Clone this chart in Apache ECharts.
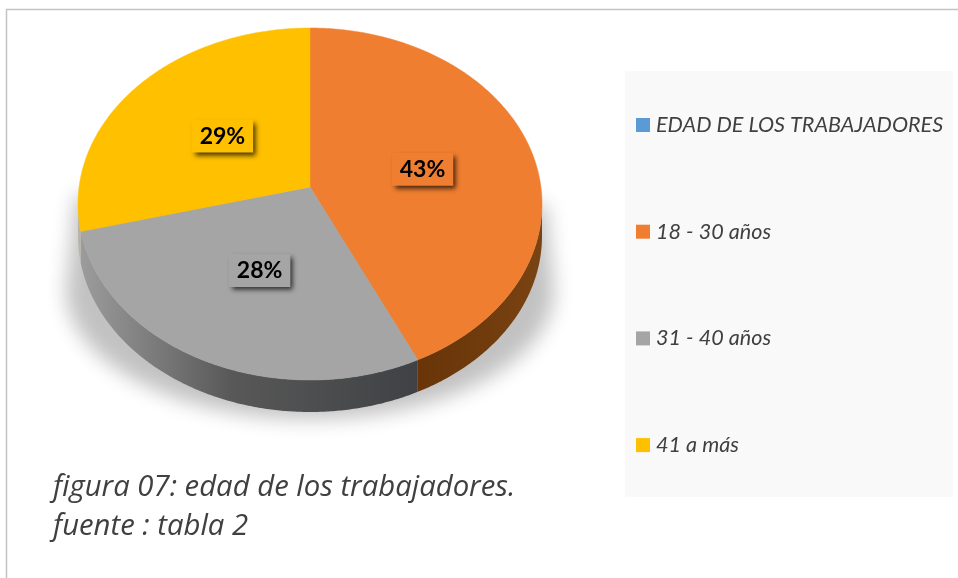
<!DOCTYPE html>
<html>
<head>
<meta charset="utf-8">
<style>html,body{margin:0;padding:0;background:#fff}#c{width:958px;height:578px}</style>
<script src="https://cdn.jsdelivr.net/npm/echarts@6/dist/echarts.min.js"></script>
</head>
<body>
<div id="c"></div>
<script>
var categories = ['EDAD DE LOS TRABAJADORES', '18 - 30 años', '31 - 40 años', '41 a más'];
var percentages = [0, 43, 28, 29];
var colors = ['#5B9BD5', '#EF7E30', '#A5A5A5', '#FFC000'];
var sideStops = [
  ['#2f5f8a', '#2f5f8a', '#2f5f8a'],
  ['#693407', '#6f3a0c', '#7a4312'],
  ['#9c9c9c', '#585858', '#3f4144'],
  ['#b8b4a8', '#b8b4a8', '#b8b4a8']
];
var captionLines = ['figura 07: edad de los trabajadores.', 'fuente : tabla 2'];

var cx = 310, cy = 204, rx = 232, ry = 176, depth = 32, tilt = 0.0966;
var total = percentages.reduce(function (a, b) { return a + b; }, 0);
var haloShift = 1500;

function project(r, phi) {
  var X = r * Math.sin(phi), Y = -r * Math.cos(phi);
  var den = 1 - tilt * Y;
  return [cx + rx * X * Math.sqrt(1 - tilt * tilt) / den, cy + ry * (Y - tilt) / den];
}

function startFrac(i) {
  var s = 0;
  for (var k = 0; k < i; k++) s += percentages[k];
  return s / total;
}

function haloPoints() {
  var pts = [[546 - haloShift, 205]];
  for (var d = 0; d <= 180; d += 3) {
    var t = d * Math.PI / 180;
    pts.push([310 + 244 * Math.cos(t) - haloShift, 290 + 129 * Math.sin(t)]);
  }
  pts.push([76 - haloShift, 195]);
  return pts;
}

function makeRender(i) {
  return function (params, api) {
    var v = api.value(0);
    if (!v) return { type: 'group', children: [] };
    var a0 = startFrac(i) * 2 * Math.PI;
    var a1 = a0 + v / total * 2 * Math.PI;
    var top = [project(0, 0)];
    var upper = [], n = Math.max(2, Math.round((a1 - a0) * 120));
    for (var k = 0; k <= n; k++) {
      var p = project(1, a0 + (a1 - a0) * k / n);
      top.push(p);
      if (p[1] >= cy - 1) upper.push(p);
    }
    var kids = [];
    if (upper.length > 1) {
      var band = upper.concat(upper.slice().reverse().map(function (p) { return [p[0], p[1] + depth]; }));
      var xs = upper.map(function (p) { return p[0]; });
      var minX = Math.min.apply(null, xs), maxX = Math.max.apply(null, xs);
      kids.push({
        type: 'polygon', shape: { points: band },
        style: { fill: new echarts.graphic.LinearGradient(minX, 0, maxX, 0, [
          { offset: 0, color: sideStops[i][0] },
          { offset: 0.45, color: sideStops[i][1] },
          { offset: 1, color: sideStops[i][2] }
        ], true), stroke: null }
      });
    }
    kids.push({ type: 'polygon', shape: { points: top }, style: { fill: colors[i], stroke: colors[i], lineWidth: 0.5 } });
    var mid = project(0.5, (a0 + a1) / 2);
    kids.push({
      type: 'text', x: mid[0] + 1, y: mid[1] + 1, z2: 50,
      style: {
        text: v + '%', align: 'center', verticalAlign: 'middle',
        font: 'bold 23px Lato', fill: '#000',
        backgroundColor: colors[i], padding: [5, 8, 5, 8],
        shadowColor: 'rgba(0,0,0,0.75)', shadowBlur: 5, shadowOffsetX: 3, shadowOffsetY: 3
      }
    });
    return { type: 'group', children: kids };
  };
}

var chart = echarts.init(document.getElementById('c'), null, { renderer: 'canvas' });
chart.setOption({
  animation: false,
  backgroundColor: '#ffffff',
  title: {
    left: 53, top: 468, padding: 0,
    text: captionLines.join('\n'),
    textStyle: { fontFamily: 'Open Sans', fontStyle: 'italic', fontWeight: 'normal', fontSize: 29.3, lineHeight: 39, color: '#404040' }
  },
  legend: {
    orient: 'vertical', left: 636, top: 113, padding: 0,
    itemWidth: 14, itemHeight: 14, itemGap: 82.7,
    icon: 'rect',
    data: categories,
    selectedMode: false,
    textStyle: { fontFamily: 'Lato', fontStyle: 'italic', fontSize: 21.6, lineHeight: 24, color: '#404040', padding: [0, 0, 0, 1] }
  },
  graphic: [
    { type: 'rect', z: -10, shape: { x: 625, y: 71, width: 328, height: 426 }, style: { fill: '#f9f9f9' } },
    { type: 'line', z: -10, shape: { x1: 6.5, y1: 9, x2: 6.5, y2: 578 }, style: { stroke: '#c4c4c4', lineWidth: 1.5 } },
    { type: 'line', z: -10, shape: { x1: 6, y1: 9.5, x2: 958, y2: 9.5 }, style: { stroke: '#c4c4c4', lineWidth: 1.5 } },
    { type: 'polygon', z: -5, shape: { points: haloPoints() },
      style: { fill: '#c2c2c2', shadowColor: '#c2c2c2', shadowBlur: 20, shadowOffsetX: haloShift } }
  ],
  series: categories.map(function (name, i) {
    return {
      type: 'custom', name: name, coordinateSystem: 'none',
      itemStyle: { color: colors[i] },
      renderItem: makeRender(i),
      data: [[percentages[i]]],
      silent: true
    };
  })
});
</script>
</body>
</html>
